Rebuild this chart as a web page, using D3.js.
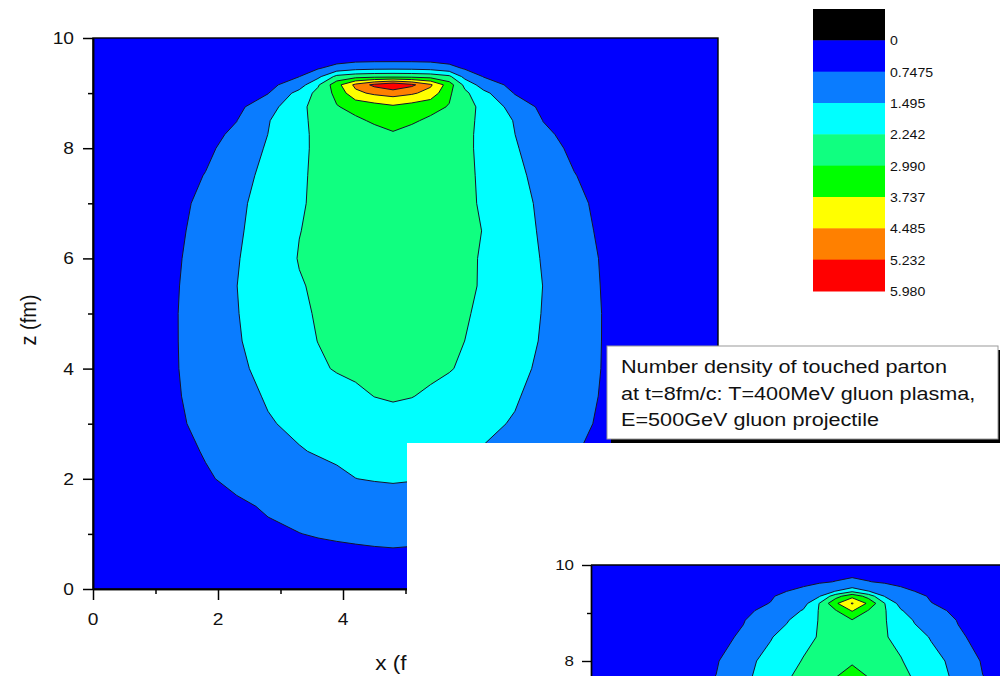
<!DOCTYPE html>
<html>
<head>
<meta charset="utf-8">
<script src="https://cdn.jsdelivr.net/npm/d3@7"></script>
<style>
  html, body { margin: 0; padding: 0; background: #fff; }
  svg { display: block; }
  text { font-family: Arial, "Liberation Sans", sans-serif; fill: #111; }
</style>
</head>
<body>
<svg id="chart" width="1000" height="676"></svg>
<script>
// Contour levels and their fill colours (band below 0 is black)
const levels = [0, 0.7475, 1.495, 2.242, 2.990, 3.737, 4.485, 5.232, 5.980];
const levelLabels = ["0", "0.7475", "1.495", "2.242", "2.990", "3.737", "4.485", "5.232", "5.980"];
const bandColors = ["#000000", "#0000ff", "#0a7cff", "#00ffff", "#10ff80", "#00ff00", "#ffff00", "#ff8000", "#ff0000"];

// Axis ticks
const majorTicks = [0, 2, 4, 6, 8, 10];
const minorTicks = [1, 3, 5, 7, 9];

// Grid node positions (fm)
const gridX = [0, 0.8, 1.3, 1.8, 2.3, 2.8, 3.3, 3.6, 3.9, 4.2, 4.5, 4.8, 5.1, 5.4, 5.7, 5.95, 6.25, 6.75, 7.2, 7.7, 8.2, 8.7, 10];
const gridZ = [0, 0.5, 1, 1.5, 2, 2.5, 3, 3.5, 4, 4.5, 5, 5.5, 6, 6.5, 7, 7.5, 8, 8.25, 8.5, 8.75, 9, 9.15, 9.3, 9.45, 9.6, 9.8, 10];

// Number density of touched partons on the (x, z) grid, one row per z
const density = [
  [.10,.14,.18,.22,.27,.32,.37,.40,.42,.44,.45,.45,.45,.44,.42,.40,.37,.32,.27,.22,.18,.14,.10],
  [.15,.23,.29,.35,.41,.47,.53,.56,.58,.59,.60,.60,.60,.59,.58,.56,.53,.47,.41,.35,.29,.23,.15],
  [.20,.36,.44,.52,.60,.68,.74,.78,.81,.84,.87,.90,.87,.84,.81,.78,.74,.68,.60,.52,.44,.36,.20],
  [.22,.35,.45,.56,.68,.79,.90,.96,1.03,1.09,1.16,1.22,1.16,1.09,1.03,.96,.90,.79,.68,.56,.45,.35,.22],
  [.30,.45,.57,.70,.85,1.02,1.19,1.29,1.39,1.49,1.53,1.55,1.53,1.50,1.42,1.31,1.20,1.02,.85,.70,.57,.45,.30],
  [.32,.48,.60,.78,1.00,1.23,1.46,1.54,1.60,1.66,1.72,1.78,1.72,1.66,1.60,1.54,1.46,1.23,1.00,.78,.60,.48,.32],
  [.35,.52,.65,.89,1.17,1.45,1.61,1.70,1.78,1.86,1.95,2.03,1.95,1.86,1.78,1.70,1.61,1.45,1.17,.89,.65,.52,.35],
  [.38,.55,.68,.97,1.29,1.55,1.75,1.87,1.99,2.11,2.25,2.30,2.26,2.15,2.02,1.88,1.75,1.55,1.29,.97,.68,.55,.38],
  [.40,.57,.70,1.02,1.37,1.68,1.98,2.15,2.29,2.37,2.46,2.55,2.46,2.37,2.28,2.15,1.98,1.68,1.37,1.02,.70,.57,.40],
  [.42,.58,.70,1.07,1.44,1.76,2.08,2.25,2.35,2.45,2.55,2.65,2.55,2.45,2.35,2.24,2.08,1.76,1.44,1.07,.70,.58,.42],
  [.42,.58,.70,1.08,1.47,1.81,2.14,2.29,2.39,2.50,2.60,2.70,2.60,2.50,2.39,2.29,2.14,1.81,1.47,1.08,.70,.58,.42],
  [.42,.56,.68,1.08,1.49,1.85,2.20,2.32,2.42,2.52,2.62,2.72,2.62,2.52,2.42,2.32,2.20,1.85,1.49,1.08,.68,.56,.42],
  [.40,.50,.65,1.04,1.45,1.88,2.27,2.37,2.46,2.56,2.65,2.75,2.64,2.54,2.43,2.33,2.20,1.85,1.45,1.05,.66,.50,.40],
  [.38,.48,.60,.99,1.40,1.81,2.23,2.34,2.45,2.55,2.65,2.75,2.65,2.55,2.45,2.34,2.23,1.81,1.40,.99,.60,.48,.38],
  [.30,.42,.52,.94,1.35,1.77,2.19,2.33,2.44,2.55,2.67,2.78,2.67,2.55,2.44,2.33,2.19,1.77,1.35,.94,.52,.42,.30],
  [.28,.40,.50,.77,1.23,1.69,2.17,2.33,2.45,2.56,2.68,2.80,2.68,2.56,2.45,2.33,2.17,1.69,1.23,.77,.50,.40,.28],
  [.26,.38,.48,.62,1.00,1.58,2.14,2.33,2.47,2.60,2.72,2.85,2.72,2.60,2.47,2.33,2.14,1.58,1.00,.62,.48,.38,.26],
  [.24,.36,.46,.58,.85,1.50,2.13,2.34,2.49,2.64,2.78,2.93,2.78,2.64,2.49,2.34,2.13,1.50,.85,.58,.46,.36,.24],
  [.22,.34,.44,.56,.74,1.45,2.10,2.40,2.64,2.88,3.07,3.20,3.07,2.88,2.64,2.40,2.10,1.45,.74,.56,.44,.34,.22],
  [.20,.31,.40,.50,.58,1.20,2.06,2.50,2.95,3.18,3.39,3.60,3.39,3.18,2.95,2.50,2.06,1.20,.58,.50,.40,.31,.20],
  [.18,.28,.36,.45,.55,.72,1.74,2.46,3.18,4.30,4.63,4.80,4.60,4.22,3.10,2.40,1.70,.70,.55,.45,.36,.28,.18],
  [.15,.25,.32,.40,.47,.55,1.15,2.15,3.46,4.67,5.42,5.90,5.40,4.60,3.35,2.05,1.12,.55,.47,.40,.32,.25,.15],
  [.14,.23,.30,.37,.45,.55,.74,1.30,2.45,2.70,2.78,2.80,2.78,2.70,2.40,1.25,.72,.55,.45,.37,.30,.23,.14],
  [.12,.20,.26,.32,.38,.45,.55,.70,1.00,1.25,1.33,1.35,1.33,1.25,.98,.68,.54,.45,.38,.32,.26,.20,.12],
  [.10,.16,.20,.25,.30,.36,.42,.47,.52,.58,.60,.60,.60,.58,.52,.47,.42,.36,.30,.25,.20,.16,.10],
  [.08,.13,.16,.19,.22,.25,.28,.30,.32,.34,.35,.35,.35,.34,.32,.30,.28,.25,.22,.19,.16,.13,.08],
  [.05,.07,.09,.11,.13,.15,.17,.18,.19,.20,.20,.20,.20,.20,.19,.18,.17,.15,.13,.11,.09,.07,.05]
];

// Inset panel: upper part of a second density map
const insetZ = [7, 7.5, 8, 8.5, 8.85, 9.05, 9.2, 9.35, 9.45, 9.55, 9.65, 9.8, 10];
const insetTicks = [8, 10];
const insetMinor = [9];
const insetDensity = [
  [.22,.34,.44,.58,.90,1.50,2.10,2.40,2.70,3.00,3.35,3.60,3.35,3.00,2.70,2.40,2.10,1.50,.90,.58,.44,.34,.22],
  [.21,.32,.42,.55,.80,1.35,1.95,2.25,2.55,2.85,3.10,3.30,3.10,2.85,2.55,2.25,1.95,1.35,.80,.55,.42,.32,.21],
  [.20,.30,.39,.50,.68,1.30,1.70,2.00,2.28,2.55,2.75,2.93,2.75,2.55,2.28,2.00,1.70,1.30,.68,.50,.39,.30,.20],
  [.18,.28,.37,.47,.60,.82,1.45,1.75,2.05,2.29,2.55,2.75,2.55,2.29,2.05,1.75,1.45,.82,.60,.47,.37,.28,.18],
  [.17,.26,.34,.43,.55,.72,1.10,1.43,1.90,2.28,2.70,2.95,2.70,2.28,1.90,1.43,1.10,.72,.55,.43,.34,.26,.17],
  [.16,.25,.32,.40,.50,.65,.88,1.15,1.55,2.30,2.95,3.80,2.95,2.30,1.55,1.15,.88,.65,.50,.40,.32,.25,.16],
  [.15,.23,.30,.38,.48,.60,.76,.95,1.20,2.27,3.62,4.55,3.60,2.25,1.20,.95,.76,.60,.48,.38,.30,.23,.15],
  [.13,.20,.27,.35,.44,.55,.70,.88,1.15,1.45,2.70,3.50,2.70,1.45,1.15,.88,.70,.55,.44,.35,.27,.20,.13],
  [.12,.19,.25,.32,.40,.50,.62,.75,.95,1.20,1.52,2.15,1.52,1.20,.95,.75,.62,.50,.40,.32,.25,.19,.12],
  [.10,.16,.21,.27,.34,.42,.53,.62,.74,.95,1.15,1.30,1.15,.95,.74,.62,.53,.42,.34,.27,.21,.16,.10],
  [.08,.13,.17,.22,.28,.35,.44,.50,.58,.66,.77,.95,.77,.66,.58,.50,.44,.35,.28,.22,.17,.13,.08],
  [.06,.10,.13,.17,.22,.28,.35,.40,.46,.52,.58,.60,.58,.52,.46,.40,.35,.28,.22,.17,.13,.10,.06],
  [.05,.08,.10,.12,.15,.18,.22,.25,.27,.29,.30,.30,.30,.29,.27,.25,.22,.18,.15,.12,.10,.08,.05]
];

const noteLines = [
  "Number density of touched parton",
  "at t=8fm/c: T=400MeV gluon plasma,",
  "E=500GeV gluon projectile"
];

const SX = 1.13; // horizontal stretch of the lettering

const svg = d3.select("#chart");
svg.append("rect").attr("width", 1000).attr("height", 676).attr("fill", "#fff");

// Filled contours of a grid drawn into g with scales xS, yS
function drawContours(g, grid, xs, zs, xS, yS) {
  const n = xs.length, m = zs.length;
  const gx = d3.scaleLinear().domain(xs.map((_, i) => i + 0.5)).range(xs).clamp(true);
  const gz = d3.scaleLinear().domain(zs.map((_, j) => j + 0.5)).range(zs).clamp(true);
  const proj = d3.geoTransform({
    point(x, y) { this.stream.point(xS(gx(x)), yS(gz(y))); }
  });
  const path = d3.geoPath(proj);
  const bands = d3.contours().size([n, m]).thresholds(levels.slice(0, 8))(grid.flat());
  g.selectAll("path.band").data(bands).join("path")
    .attr("class", "band")
    .attr("d", path)
    .attr("fill", d => bandColors[levels.indexOf(d.value) + 1])
    .attr("stroke", d => d.value === 0 ? "none" : "#15152a")
    .attr("stroke-width", 1)
    .attr("stroke-linejoin", "round");
}

function stretchedText(g, txt, x, y, size, anchor, sx) {
  return g.append("text")
    .attr("transform", `translate(${x},${y}) scale(${sx},1)`)
    .attr("text-anchor", anchor)
    .attr("font-size", size)
    .text(txt);
}

// ---------- Main map ----------
const x = d3.scaleLinear().domain([0, 10]).range([93, 718]);
const z = d3.scaleLinear().domain([0, 10]).range([589, 38]);

const defs = svg.append("defs");
defs.append("clipPath").attr("id", "clipMain").append("rect")
  .attr("x", 93).attr("y", 38).attr("width", 625).attr("height", 551);

const mainG = svg.append("g").attr("clip-path", "url(#clipMain)");
drawContours(mainG, density, gridX, gridZ, x, z);

svg.append("rect").attr("x", 93).attr("y", 38).attr("width", 625).attr("height", 551)
  .attr("fill", "none").attr("stroke", "#000").attr("stroke-width", 1.4);

const axisY = svg.append("g").attr("transform", "translate(93,0)")
  .call(d3.axisLeft(z).tickValues(majorTicks).tickSize(10).tickSizeOuter(0).tickFormat(""));
const axisYm = svg.append("g").attr("transform", "translate(93,0)")
  .call(d3.axisLeft(z).tickValues(minorTicks).tickSize(5).tickSizeOuter(0).tickFormat(""));
const axisX = svg.append("g").attr("transform", "translate(0,589)")
  .call(d3.axisBottom(x).tickValues(majorTicks).tickSize(11).tickSizeOuter(0).tickFormat(""));
const axisXm = svg.append("g").attr("transform", "translate(0,589)")
  .call(d3.axisBottom(x).tickValues(minorTicks).tickSize(5).tickSizeOuter(0).tickFormat(""));
[axisY, axisYm, axisX, axisXm].forEach(a => {
  a.selectAll("path.domain").attr("stroke", "#000").attr("stroke-width", 1.5);
  a.selectAll(".tick line").attr("stroke", "#000").attr("stroke-width", 1.5);
});

const labelsG = svg.append("g");
majorTicks.forEach(t => stretchedText(labelsG, String(t), 74, z(t) + 6, 17, "end", SX));
majorTicks.forEach(t => stretchedText(labelsG, String(t), x(t), 625, 17, "middle", SX));

labelsG.append("text")
  .attr("transform", "translate(36,320) scale(1.13,1) rotate(-90)")
  .attr("text-anchor", "middle").attr("font-size", 20).text("z (fm)");
stretchedText(labelsG, "x (fm)", 404, 670, 20, "middle", SX);

// ---------- Colour scale ----------
const leg = d3.scaleLinear().domain([0, 9]).range([9, 291]);
const legG = svg.append("g");
legG.selectAll("rect").data(bandColors).join("rect")
  .attr("x", 813).attr("width", 72)
  .attr("y", (d, i) => leg(i))
  .attr("height", (d, i) => leg(i + 1) - leg(i) + 0.5)
  .attr("fill", d => d);
levelLabels.forEach((s, i) => stretchedText(legG, s, 890, leg(i + 1) + 5, 12.5, "start", SX));

// ---------- Annotation ----------
const noteG = svg.append("g");
noteG.append("rect").attr("x", 611).attr("y", 350).attr("width", 393).attr("height", 93).attr("fill", "#000");
noteG.append("rect").attr("x", 607).attr("y", 346).attr("width", 391).attr("height", 93)
  .attr("fill", "#fff").attr("stroke", "#9a9a9a").attr("stroke-width", 1);
noteLines.forEach((s, i) => stretchedText(noteG, s, 621, 373 + i * 26.5, 18.5, "start", 1.17));

// ---------- Inset panel ----------
svg.append("rect").attr("x", 407).attr("y", 443).attr("width", 593).attr("height", 233).attr("fill", "#fff");

const x2 = d3.scaleLinear().domain([0, 10]).range([591, 1135]);
const z2 = d3.scaleLinear().domain([0, 10]).range([1045, 565]);
defs.append("clipPath").attr("id", "clipInset").append("rect")
  .attr("x", 591).attr("y", 565).attr("width", 409).attr("height", 111);
const insetG = svg.append("g").attr("clip-path", "url(#clipInset)");
drawContours(insetG, insetDensity, gridX, insetZ, x2, z2);

svg.append("line").attr("x1", 591).attr("x2", 1000).attr("y1", 565).attr("y2", 565)
  .attr("stroke", "#000").attr("stroke-width", 1.4);
const axisY2 = svg.append("g").attr("transform", "translate(591,0)")
  .call(d3.axisLeft(z2).tickValues(insetTicks).tickSize(9).tickSizeOuter(0).tickFormat(""));
const axisY2m = svg.append("g").attr("transform", "translate(591,0)")
  .call(d3.axisLeft(z2).tickValues(insetMinor).tickSize(4).tickSizeOuter(0).tickFormat(""));
[axisY2, axisY2m].forEach(a => {
  a.selectAll("path.domain").attr("stroke", "#000").attr("stroke-width", 1.4);
  a.selectAll(".tick line").attr("stroke", "#000").attr("stroke-width", 1.4);
});
insetTicks.forEach(t => stretchedText(svg, String(t), 574, z2(t) + 5, 15, "end", SX));
</script>
</body>
</html>
